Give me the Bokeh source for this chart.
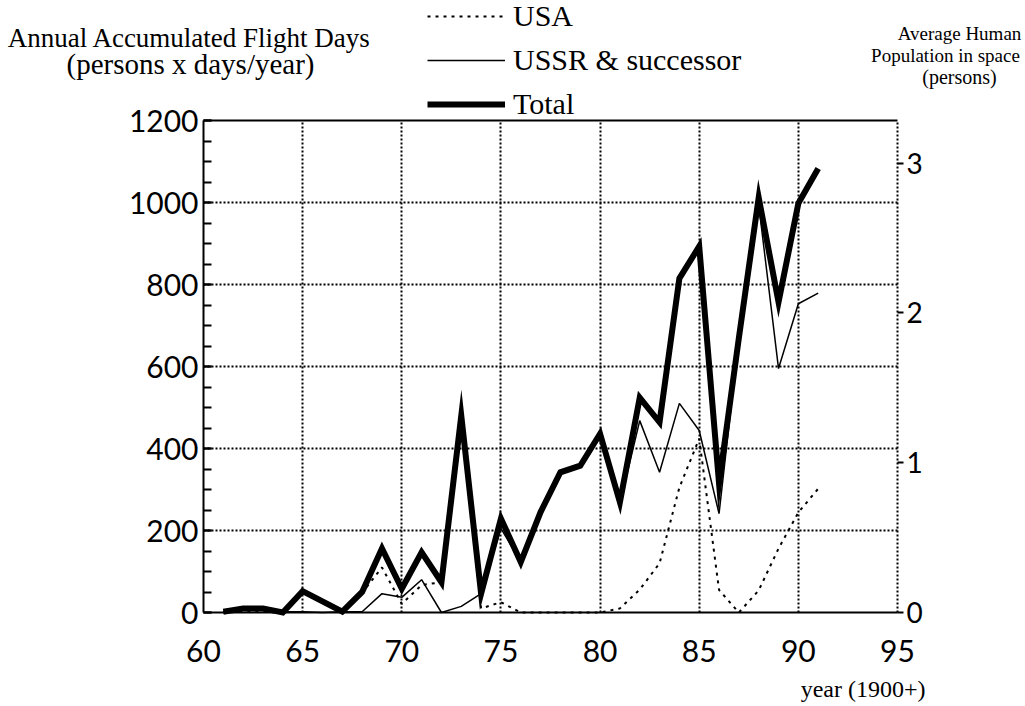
from bokeh.plotting import figure
from bokeh.models import (Range1d, LinearAxis, Label, Legend, LegendItem,
                          FixedTicker, Grid)
from bokeh.embed import file_html
from bokeh.resources import INLINE

# ---------------- data ----------------
years = list(range(61, 92))
usa = [0, 2, 2, 0, 50, 27, 0, 48, 110, 21, 67, 74, 470, 10, 25, 0, 0, 0, 0, 0,
       10, 56, 120, 305, 424, 55, 0, 54, 156, 244, 302]
ussr = [2, 8, 8, 2, 2, 0, 2, 2, 46, 37, 80, 0, 15, 46, 205, 123, 245, 342, 358,
        436, 265, 468, 342, 510, 444, 241, 670, 995, 595, 753, 779]
total = [2, 10, 10, 0, 52, 27, 2, 50, 156, 58, 147, 74, 480, 46, 229, 123, 245,
         342, 358, 436, 269, 524, 464, 815, 893, 315, 670, 1012, 757, 998, 1083]

x_ticks = [60, 65, 70, 75, 80, 85, 90, 95]
y_ticks = [0, 200, 400, 600, 800, 1000, 1200]
y_minor = list(range(0, 1201, 50))
right_ticks = [0, 1, 2, 3]
days_per_person_year = 365.25

series_names = ["USA", "USSR & successor", "Total"]

SERIF = "Liberation Serif"
SANS = "Lato"

# ---------------- geometry (pixels) ----------------
W, H = 1025, 706
FL, FR, FT, FB = 203, 897, 120, 612          # chart box
XMIN, XMAX, YMIN, YMAX = 60, 95, 0, 1200
xs = (FR - FL) / (XMAX - XMIN)
ys = (FB - FT) / (YMAX - YMIN)

def px_x(px):
    return XMIN + (px - FL) / xs

def px_y(py):
    return YMIN + (FB - py) / ys

p = figure(width=W, height=H, output_backend="svg", toolbar_location=None,
           x_range=Range1d(px_x(0), px_x(W)), y_range=Range1d(px_y(H), px_y(0)),
           x_axis_type=None, y_axis_type=None,
           min_border_left=0, min_border_right=0, min_border_top=0,
           min_border_bottom=0)
p.outline_line_color = None
p.background_fill_color = "white"
p.border_fill_color = "white"

# ---------------- axes ----------------
xa = LinearAxis(fixed_location=YMIN, bounds=(XMIN, XMAX),
                ticker=FixedTicker(ticks=x_ticks),
                major_tick_in=0, major_tick_out=0, minor_tick_in=0, minor_tick_out=0,
                axis_line_width=2, axis_line_color="black",
                major_label_text_font=SANS, major_label_text_font_size="30px",
                major_label_text_color="black", major_label_standoff=27)
p.add_layout(xa, "below")

ya = LinearAxis(fixed_location=XMIN, bounds=(YMIN, YMAX),
                ticker=FixedTicker(ticks=y_ticks, minor_ticks=y_minor),
                major_tick_in=8, major_tick_out=0, minor_tick_in=8, minor_tick_out=0,
                major_tick_line_width=2, minor_tick_line_width=2,
                axis_line_width=2, axis_line_color="black",
                major_label_text_font=SANS, major_label_text_font_size="30px",
                major_label_text_color="black", major_label_standoff=5)
p.add_layout(ya, "left")

ta = LinearAxis(fixed_location=YMAX, bounds=(XMIN, XMAX), ticker=FixedTicker(ticks=[]),
                major_tick_in=0, major_tick_out=0, minor_tick_in=0, minor_tick_out=0,
                axis_line_width=2, axis_line_color="black",
                major_label_text_font_size="0px")
p.add_layout(ta, "above")

p.extra_y_ranges = {"pers": Range1d(px_y(H) / days_per_person_year,
                                    px_y(0) / days_per_person_year)}
ra = LinearAxis(y_range_name="pers", fixed_location=XMAX,
                bounds=(YMIN / days_per_person_year, YMAX / days_per_person_year),
                ticker=FixedTicker(ticks=right_ticks),
                axis_line_color=None, major_tick_in=0, major_tick_out=6,
                minor_tick_in=0, minor_tick_out=0, major_tick_line_width=2,
                major_label_standoff=3, major_label_text_font=SANS,
                major_label_text_font_size="28px", major_label_text_color="black")
p.add_layout(ra, "right")

# ---------------- dotted grid ----------------
grid_style = dict(grid_line_color="black", grid_line_dash="2 2", grid_line_width=2)
if "cross_bounds" in Grid.properties():
    p.add_layout(Grid(dimension=0, ticker=FixedTicker(ticks=x_ticks[1:]),
                      bounds=(XMIN, XMAX), cross_bounds=(YMIN, YMAX), **grid_style))
    p.add_layout(Grid(dimension=1, ticker=FixedTicker(ticks=y_ticks[1:-1]),
                      bounds=(YMIN, YMAX), cross_bounds=(XMIN, XMAX), **grid_style))
else:
    gx = x_ticks[1:]
    gy = y_ticks[1:-1]
    p.segment(x0=gx, y0=[YMIN] * len(gx), x1=gx, y1=[YMAX] * len(gx),
              line_color="black", line_dash="2 2", line_width=2)
    p.segment(x0=[XMIN] * len(gy), y0=gy, x1=[XMAX] * len(gy), y1=gy,
              line_color="black", line_dash="2 2", line_width=2)

# ---------------- series ----------------
r_usa = p.line(years, usa, line_color="black", line_width=2, line_dash="3 5")
r_ussr = p.line(years, ussr, line_color="black", line_width=1.5)
r_tot = p.line(years, total, line_color="black", line_width=6, line_join="miter")

legend = Legend(items=[LegendItem(label=series_names[0], renderers=[r_usa]),
                       LegendItem(label=series_names[1], renderers=[r_ussr]),
                       LegendItem(label=series_names[2], renderers=[r_tot])],
                location=(427, H - 121), orientation="vertical",
                glyph_width=78, glyph_height=32, label_height=32, spacing=10,
                label_standoff=8, padding=0, margin=0,
                border_line_color=None, background_fill_alpha=0,
                label_text_font=SERIF, label_text_font_size="30px",
                label_text_color="black")
p.add_layout(legend)

def lab(text, px, py, size, align="center"):
    p.add_layout(Label(x=px_x(px), y=px_y(py), text=text, text_font=SERIF,
                       text_font_size=size, text_align=align,
                       text_baseline="middle", text_color="black"))

lab("Annual Accumulated Flight Days", 189, 37, "27px")
lab("(persons x days/year)", 190, 63, "29px")
lab("Average Human", 959, 33, "19px")
lab("Population in space", 945, 55, "19px")
lab("(persons)", 959, 76, "20px")
lab("year (1900+)", 925, 688, "24px", align="right")

open("out.html", "w").write(file_html(p, INLINE))
